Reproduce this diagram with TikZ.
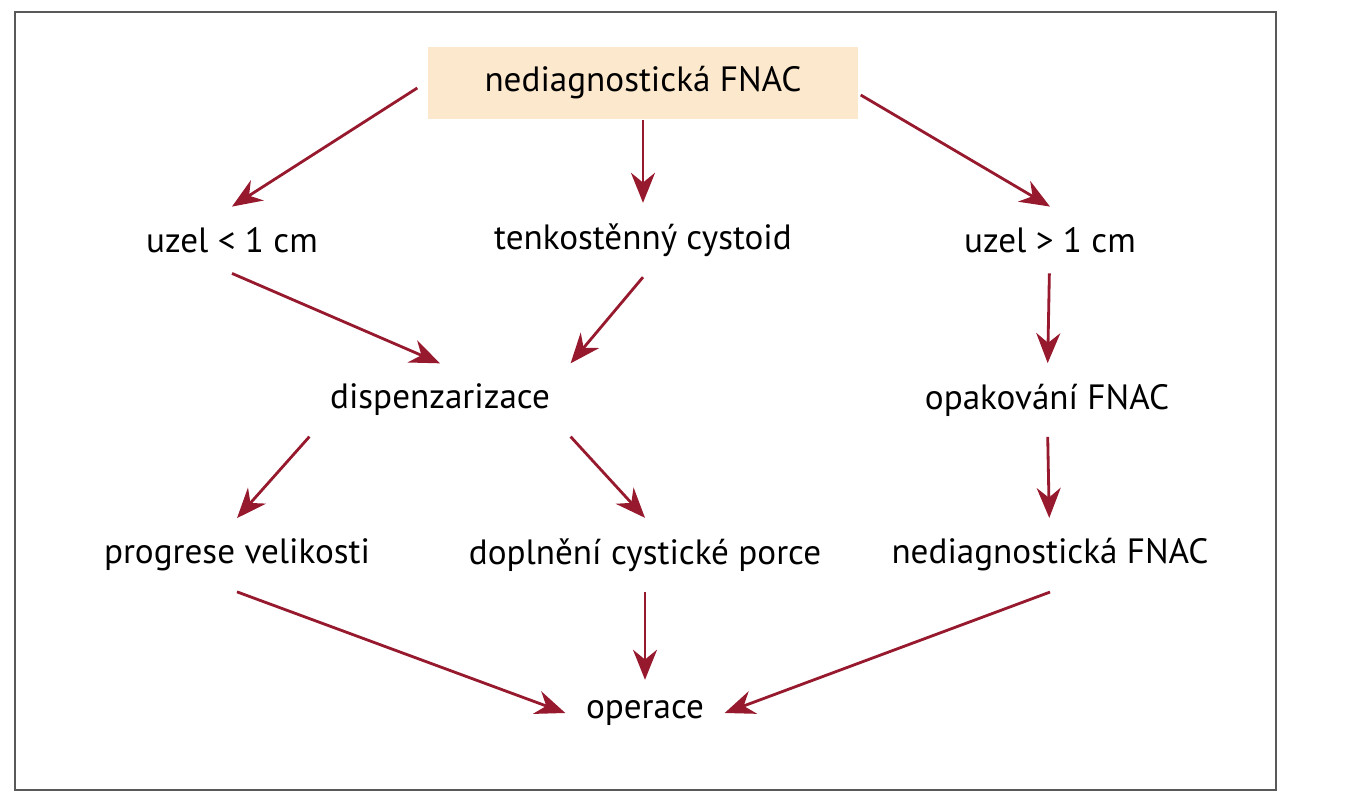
\documentclass[tikz,border=0pt]{standalone}
\usepackage{fontspec}
\setmainfont{PT Sans}
\usetikzlibrary{arrows.meta}
\definecolor{flowred}{RGB}{150,25,45}
\definecolor{boxfill}{RGB}{252,232,205}
\tikzset{
	stage/.style={font=\fontsize{10pt}{12pt}\selectfont, inner sep=2mm},
	flow/.style={-{Stealth[length=3mm,width=2.4mm]}, flowred, thick}
}
\begin{document}
\begin{tikzpicture}[x=0.1mm, y=-0.1mm]
		\useasboundingbox (0, 0) rectangle (1349, 800);
		\draw [gray!70!black]	(15, 12) rectangle (1276, 790);

		\node[stage, fill=boxfill, minimum width=43mm, minimum height=5.7mm] (start) at (643, 83) {nediagnostická FNAC};

		\node[stage] (small)	at (232, 240) {uzel < 1 cm};
		\node[stage] (cyst)	at (643, 240) {tenkostěnný cystoid};
		\node[stage] (large)	at (1050, 240) {uzel > 1 cm};
		\node[stage] (disp)	at (440, 400) {dispenzarizace};
		\node[stage] (repeat)	at (1047, 400) {opakování FNAC};
		\node[stage] (prog)	at (237, 555) {progrese velikosti};
		\node[stage] (fill)	at (645, 555) {doplnění cystické porce};
		\node[stage] (nondiag)	at (1050, 555) {nediagnostická FNAC};
		\node[stage] (op)	at (645, 713) {operace};

		\draw [flow]	(start.west) ++(-10, 5) coordinate (sw) (sw) to (small.north);
		\draw [flow]	(start) to (cyst);
		\draw [flow]	(start.east) ++(2, 12) coordinate (se) (se) to (large.north);
		\draw [flow]	(small.south) to (disp.north);
		\draw [flow]	(cyst.south) to (disp.north east);
		\draw [flow]	(large) to (repeat);
		\draw [flow]	(disp.south west) to (prog.north);
		\draw [flow]	(disp.south east) to (fill.north);
		\draw [flow]	(repeat) to (nondiag);
		\draw [flow]	(prog.south) to (op.west);
		\draw [flow]	(fill) to (op);
		\draw [flow]	(nondiag.south) to (op.east);
	\end{tikzpicture}
\end{document}
